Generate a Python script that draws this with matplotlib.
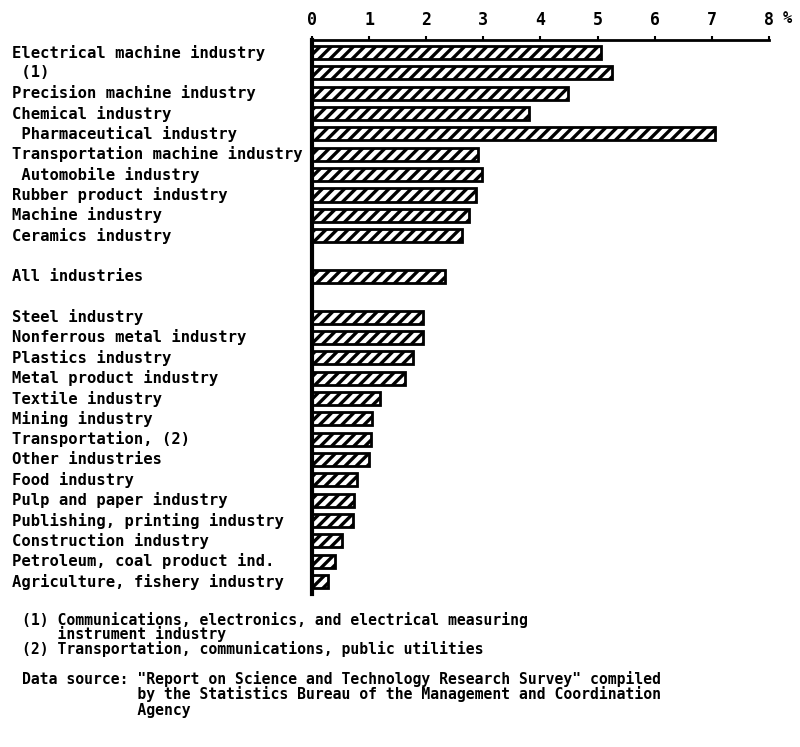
import matplotlib.pyplot as plt
import matplotlib.transforms as mtransforms
import numpy as np

plt.rcParams['font.family'] = 'DejaVu Sans Mono'
plt.rcParams['font.weight'] = 'bold'
plt.rcParams['hatch.linewidth'] = 2.4

# industries, top to bottom (leading spaces = indent in original)
labels = ["Electrical machine industry", " (1)", "Precision machine industry",
          "Chemical industry", " Pharmaceutical industry",
          "Transportation machine industry", " Automobile industry",
          "Rubber product industry", "Machine industry", "Ceramics industry",
          "All industries",
          "Steel industry", "Nonferrous metal industry", "Plastics industry",
          "Metal product industry", "Textile industry", "Mining industry",
          "Transportation, (2)", "Other industries", "Food industry",
          "Pulp and paper industry", "Publishing, printing industry",
          "Construction industry", "Petroleum, coal product ind.",
          "Agriculture, fishery industry"]
values = [5.07, 5.25, 4.48, 3.80, 7.06, 2.91, 2.97, 2.87, 2.75, 2.63,
          2.33,
          1.95, 1.94, 1.77, 1.63, 1.19, 1.05, 1.03, 1.00, 0.79, 0.74, 0.72,
          0.52, 0.40, 0.28]
slots = list(range(10)) + [11] + list(range(13, 27))

fig = plt.figure(figsize=(8, 7.47), dpi=100)
ax = fig.add_axes([0.39, 0.205, 0.571, 0.741])

ax.barh(slots, values, height=0.64, color='white', edgecolor='black',
        linewidth=2, hatch='///')

ax.set_xlim(0, 8)
ax.set_ylim(26.6, -0.6)
ax.xaxis.tick_top()
ax.set_xticks(range(9))
ax.tick_params(axis='x', direction='out', length=3, width=1.5,
               labelsize=12, pad=5)
ax.set_yticks([])
for s in ['right', 'bottom']:
    ax.spines[s].set_visible(False)
ax.spines['top'].set_linewidth(2)
ax.spines['left'].set_linewidth(3)

tr = mtransforms.blended_transform_factory(fig.transFigure, ax.transData)
for s, lab in zip(slots, labels):
    ax.text(0.015, s, lab, transform=tr, ha='left', va='center',
            fontsize=11.2)

fig.text(0.978, 0.975, "%", fontsize=11, ha='left', va='center')

notes = ["(1) Communications, electronics, and electrical measuring",
         "    instrument industry",
         "(2) Transportation, communications, public utilities"]
for i, n in enumerate(notes):
    fig.text(0.027, 1 - (620 + i * 14.5) / 747, n, fontsize=10.6, va='center')

src = ["Data source: \"Report on Science and Technology Research Survey\" compiled",
       "             by the Statistics Bureau of the Management and Coordination",
       "             Agency"]
for i, n in enumerate(src):
    fig.text(0.027, 1 - (679 + i * 15.5) / 747, n, fontsize=10.6, va='center')

fig.savefig("out.png", dpi=100)
